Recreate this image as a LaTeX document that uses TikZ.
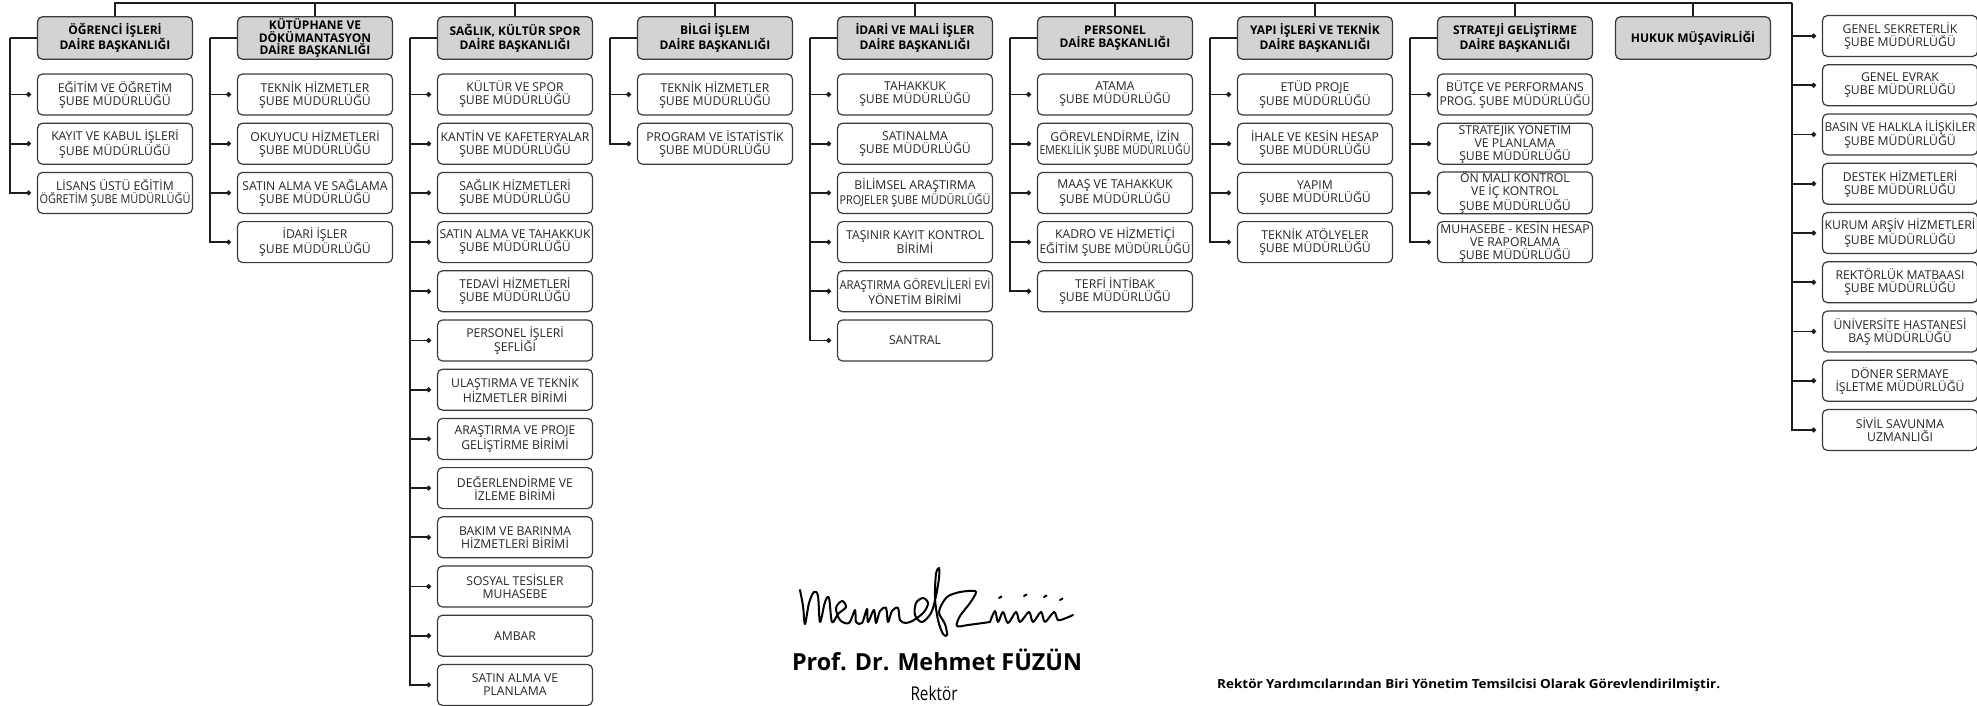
\documentclass[tikz,border=0pt]{standalone}
\usepackage{fontspec}
\setmainfont{Open Sans}
\usepackage{graphicx}
\usetikzlibrary{arrows.meta}
\definecolor{hdrfill}{HTML}{D3D3D3}
\definecolor{bordc}{HTML}{3A3A3A}
\definecolor{connc}{HTML}{1E1E1E}
\definecolor{subtext}{HTML}{262626}
\newsavebox\flbox
\newlength\fllen
\newcommand\fl[2][151]{\sbox\flbox{#2}\setlength\fllen{\wd\flbox}\ifdim\fllen>#1pt\relax\pgfmathsetmacro\flsc{#1/\fllen}\scalebox{\flsc}[1]{\usebox\flbox}\else\usebox\flbox\fi}
\newcommand\fw[2]{\sbox\flbox{#2}\setlength\fllen{\wd\flbox}\pgfmathsetmacro\flsc{#1/\fllen}\scalebox{\flsc}[1]{\usebox\flbox}}
\newcommand\subbox[4]{\node[sb] (#1) at (#2,{94.5+49.2*(#3-1)}) {#4};}
\newcommand\rbox[3]{\node[sb] (#1) at (1900,{36+49.25*(#2-1)}) {#3};}
\newcommand\hdr[3]{\node[hdr] (#1) at (#2,38) {#3};}
\tikzset{
  hdr/.style={draw=bordc, fill=hdrfill, rounded corners=5pt, line width=1.3pt,
    minimum width=155pt, minimum height=42.5pt, inner sep=0pt, align=center,
    font=\fontsize{12}{12.5}\selectfont\bfseries, text=black},
  sb/.style={draw=bordc, fill=white, rounded corners=5pt, line width=1.2pt,
    minimum width=155pt, minimum height=41pt, inner sep=0pt, align=center,
    font=\fontsize{12.2}{13}\selectfont, text=subtext},
  conn/.style={draw=connc, line width=1.9pt},
  br/.style={conn, -{Circle[length=4.6pt,width=4.6pt]}, shorten >=6pt},
  sig/.style={draw=black, line width=2pt, line cap=round, line join=round},
}
\begin{document}
\begin{tikzpicture}[x=1pt,y=-1pt]
\useasboundingbox (0,0) rectangle (1977,706);
% headers
\hdr{h0}{115}{\fl{ÖĞRENCİ İŞLERİ}\\\fl{DAİRE BAŞKANLIĞI}}
\hdr{h1}{315}{\fl{KÜTÜPHANE VE}\\\fl{DÖKÜMANTASYON}\\\fl{DAİRE BAŞKANLIĞI}}
\hdr{h2}{515}{\fl{SAĞLIK, KÜLTÜR SPOR}\\\fl{DAİRE BAŞKANLIĞI}}
\hdr{h3}{715}{\fl{BİLGİ İŞLEM}\\\fl{DAİRE BAŞKANLIĞI}}
\hdr{h4}{915}{\fl{İDARİ VE MALİ İŞLER}\\\fl{DAİRE BAŞKANLIĞI}}
\hdr{h5}{1115}{\fl{PERSONEL}\\\fl{DAİRE BAŞKANLIĞI}}
\hdr{h6}{1315}{\fl{YAPI İŞLERİ VE TEKNİK}\\\fl{DAİRE BAŞKANLIĞI}}
\hdr{h7}{1515}{\fl{STRATEJİ GELİŞTİRME}\\\fl{DAİRE BAŞKANLIĞI}}
\hdr{hh}{1693}{\fl{HUKUK MÜŞAVİRLİĞİ}}
% column 0
\subbox{s0-1}{115}{1}{\fl{EĞİTİM VE ÖĞRETİM}\\\fl{ŞUBE MÜDÜRLÜĞÜ}}
\subbox{s0-2}{115}{2}{\fl{KAYIT VE KABUL İŞLERİ}\\\fl{ŞUBE MÜDÜRLÜĞÜ}}
\subbox{s0-3}{115}{3}{\fl{LİSANS ÜSTÜ EĞİTİM}\\\fl{ÖĞRETİM ŞUBE MÜDÜRLÜĞÜ}}
% column 1
\subbox{s1-1}{315}{1}{\fl{TEKNİK HİZMETLER}\\\fl{ŞUBE MÜDÜRLÜĞÜ}}
\subbox{s1-2}{315}{2}{\fl{OKUYUCU HİZMETLERİ}\\\fl{ŞUBE MÜDÜRLÜĞÜ}}
\subbox{s1-3}{315}{3}{\fl{SATIN ALMA VE SAĞLAMA}\\\fl{ŞUBE MÜDÜRLÜĞÜ}}
\subbox{s1-4}{315}{4}{\fl{İDARİ İŞLER}\\\fl{ŞUBE MÜDÜRLÜĞÜ}}
% column 2
\subbox{s2-1}{515}{1}{\fl{KÜLTÜR VE SPOR}\\\fl{ŞUBE MÜDÜRLÜĞÜ}}
\subbox{s2-2}{515}{2}{\fl{KANTİN VE KAFETERYALAR}\\\fl{ŞUBE MÜDÜRLÜĞÜ}}
\subbox{s2-3}{515}{3}{\fl{SAĞLIK HİZMETLERİ}\\\fl{ŞUBE MÜDÜRLÜĞÜ}}
\subbox{s2-4}{515}{4}{\fl{SATIN ALMA VE TAHAKKUK}\\\fl{ŞUBE MÜDÜRLÜĞÜ}}
\subbox{s2-5}{515}{5}{\fl{TEDAVİ HİZMETLERİ}\\\fl{ŞUBE MÜDÜRLÜĞÜ}}
\subbox{s2-6}{515}{6}{\fl{PERSONEL İŞLERİ}\\\fl{ŞEFLİĞİ}}
\subbox{s2-7}{515}{7}{\fl{ULAŞTIRMA VE TEKNİK}\\\fl{HİZMETLER BİRİMİ}}
\subbox{s2-8}{515}{8}{\fl{ARAŞTIRMA VE PROJE}\\\fl{GELİŞTİRME BİRİMİ}}
\subbox{s2-9}{515}{9}{\fl{DEĞERLENDİRME VE}\\\fl{İZLEME BİRİMİ}}
\subbox{s2-10}{515}{10}{\fl{BAKIM VE BARINMA}\\\fl{HİZMETLERİ BİRİMİ}}
\subbox{s2-11}{515}{11}{\fl{SOSYAL TESİSLER}\\\fl{MUHASEBE}}
\subbox{s2-12}{515}{12}{\fl{AMBAR}}
\subbox{s2-13}{515}{13}{\fl{SATIN ALMA VE}\\\fl{PLANLAMA}}
% column 3
\subbox{s3-1}{715}{1}{\fl{TEKNİK HİZMETLER}\\\fl{ŞUBE MÜDÜRLÜĞÜ}}
\subbox{s3-2}{715}{2}{\fl{PROGRAM VE İSTATİSTİK}\\\fl{ŞUBE MÜDÜRLÜĞÜ}}
% column 4
\subbox{s4-1}{915}{1}{\fl{TAHAKKUK}\\\fl{ŞUBE MÜDÜRLÜĞÜ}}
\subbox{s4-2}{915}{2}{\fl{SATINALMA}\\\fl{ŞUBE MÜDÜRLÜĞÜ}}
\subbox{s4-3}{915}{3}{\fl{BİLİMSEL ARAŞTIRMA}\\\fl{PROJELER ŞUBE MÜDÜRLÜĞÜ}}
\subbox{s4-4}{915}{4}{\fl{TAŞINIR KAYIT KONTROL}\\\fl{BİRİMİ}}
\subbox{s4-5}{915}{5}{\fl{ARAŞTIRMA GÖREVLİLERİ EVİ}\\\fl{YÖNETİM BİRİMİ}}
\subbox{s4-6}{915}{6}{\fl{SANTRAL}}
% column 5
\subbox{s5-1}{1115}{1}{\fl{ATAMA}\\\fl{ŞUBE MÜDÜRLÜĞÜ}}
\subbox{s5-2}{1115}{2}{\fl{GÖREVLENDİRME, İZİN}\\\fl{EMEKLİLİK ŞUBE MÜDÜRLÜĞÜ}}
\subbox{s5-3}{1115}{3}{\fl{MAAŞ VE TAHAKKUK}\\\fl{ŞUBE MÜDÜRLÜĞÜ}}
\subbox{s5-4}{1115}{4}{\fl{KADRO VE HİZMETİÇİ}\\\fl{EĞİTİM ŞUBE MÜDÜRLÜĞÜ}}
\subbox{s5-5}{1115}{5}{\fl{TERFİ İNTİBAK}\\\fl{ŞUBE MÜDÜRLÜĞÜ}}
% column 6
\subbox{s6-1}{1315}{1}{\fl{ETÜD PROJE}\\\fl{ŞUBE MÜDÜRLÜĞÜ}}
\subbox{s6-2}{1315}{2}{\fl{İHALE VE KESİN HESAP}\\\fl{ŞUBE MÜDÜRLÜĞÜ}}
\subbox{s6-3}{1315}{3}{\fl{YAPIM}\\\fl{ŞUBE MÜDÜRLÜĞÜ}}
\subbox{s6-4}{1315}{4}{\fl{TEKNİK ATÖLYELER}\\\fl{ŞUBE MÜDÜRLÜĞÜ}}
% column 7
\subbox{s7-1}{1515}{1}{\fl{BÜTÇE VE PERFORMANS}\\\fl{PROG. ŞUBE MÜDÜRLÜĞÜ}}
\subbox{s7-2}{1515}{2}{\fl{STRATEJİK YÖNETİM}\\\fl{VE PLANLAMA}\\\fl{ŞUBE MÜDÜRLÜĞÜ}}
\subbox{s7-3}{1515}{3}{\fl{ÖN MALİ KONTROL}\\\fl{VE İÇ KONTROL}\\\fl{ŞUBE MÜDÜRLÜĞÜ}}
\subbox{s7-4}{1515}{4}{\fl{MUHASEBE - KESİN HESAP}\\\fl{VE RAPORLAMA}\\\fl{ŞUBE MÜDÜRLÜĞÜ}}
% right column
\rbox{r-1}{1}{\fl{GENEL SEKRETERLİK}\\\fl{ŞUBE MÜDÜRLÜĞÜ}}
\rbox{r-2}{2}{\fl{GENEL EVRAK}\\\fl{ŞUBE MÜDÜRLÜĞÜ}}
\rbox{r-3}{3}{\fl{BASIN VE HALKLA İLİŞKİLER}\\\fl{ŞUBE MÜDÜRLÜĞÜ}}
\rbox{r-4}{4}{\fl{DESTEK HİZMETLERİ}\\\fl{ŞUBE MÜDÜRLÜĞÜ}}
\rbox{r-5}{5}{\fl{KURUM ARŞİV HİZMETLERİ}\\\fl{ŞUBE MÜDÜRLÜĞÜ}}
\rbox{r-6}{6}{\fl{REKTÖRLÜK MATBAASI}\\\fl{ŞUBE MÜDÜRLÜĞÜ}}
\rbox{r-7}{7}{\fl{ÜNİVERSİTE HASTANESİ}\\\fl{BAŞ MÜDÜRLÜĞÜ}}
\rbox{r-8}{8}{\fl{DÖNER SERMAYE}\\\fl{İŞLETME MÜDÜRLÜĞÜ}}
\rbox{r-9}{9}{\fl{SİVİL SAVUNMA}\\\fl{UZMANLIĞI}}
% top line and right spine
\coordinate (R) at (1792,3);
\draw[conn] (h0.north) |- (R);
\foreach \k in {h1,h2,h3,h4,h5,h6,h7,hh} \draw[conn] (\k.north) -- (\k.north |- R);
\foreach \i in {1,...,9} \draw[br] (R) |- (r-\i.west);
% column spines
\foreach \k/\n in {0/3,1/4,2/13,3/2,4/6,5/5,6/4,7/4}{
  \coordinate (c\k) at ([xshift=-27pt]h\k.west);
  \draw[conn] (h\k.west) -- (c\k);
  \foreach \i in {1,...,\n} \draw[br] (c\k) |- (s\k-\i.west);
}
% signature
\draw[sig] plot[smooth, tension=0.55] coordinates {(800,590) (803,606) (805,624) (809,603) (814,592) (818,596) (820,622) (825,602) (829,598) (832,622)
 (838,614) (846,607) (842,601) (836,608) (840,620) (849,623) (855,610) (856,622) (862,623) (867,609) (868,622)
 (874,610) (876,623) (880,611) (886,608) (888,622) (892,611) (898,608) (900,620) (906,623) (914,620) (924,612) (928,603) (923,598) (916,603) (915,615) (922,622) (931,613) (936,596) (939,578) (939,568) (936,574) (935,598) (938,620) (943,634) (947,635) (945,624) (939,612) (946,598) (956,593) (968,591) (976,592) (970,603) (960,616) (957,626) (968,625) (990,622)};
\draw[sig] plot[smooth, tension=0.55] coordinates {(990,622) (995,611) (998,622) (1003,612) (1008,623) (1016,612) (1020,622) (1029,612) (1033,622) (1041,612) (1045,622) (1054,612) (1058,620) (1066,618) (1073,615)};
\foreach \dx/\dy in {999/598,1024/596,1044/597,1060/600} \draw[sig] (\dx,\dy) -- ++(2.5,-1.5);
% name and texts
\node[anchor=base, inner sep=0pt] (name) at (937,670) {\fontsize{23.5}{25}\selectfont\bfseries\fw{290}{Prof. Dr. Mehmet FÜZÜN}};
\node[anchor=base, inner sep=0pt] (title) at (934,700) {\fontsize{19}{21}\selectfont\fw{47}{Rektör}};
\node[anchor=base west, inner sep=0pt] (note) at (1217,688) {\fontsize{12.5}{14}\selectfont\bfseries\fw{503}{Rektör Yardımcılarından Biri Yönetim Temsilcisi Olarak Görevlendirilmiştir.}};
\end{tikzpicture}
\end{document}
